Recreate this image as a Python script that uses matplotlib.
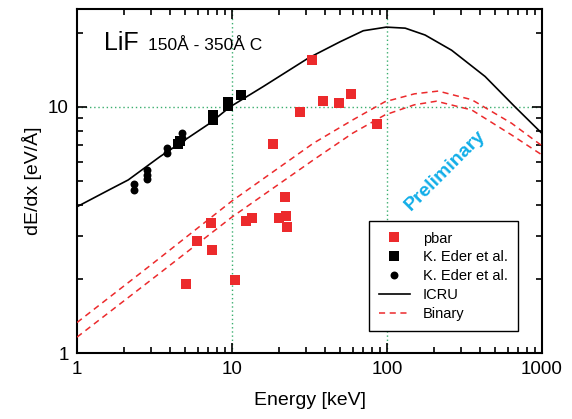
import matplotlib
matplotlib.use("Agg")
import matplotlib.pyplot as plt
from matplotlib.ticker import LogLocator, NullFormatter, FixedLocator, FixedFormatter

plt.rcParams['font.family'] = ['Liberation Sans', 'DejaVu Sans']

# pbar data
pbar_e = [5.03, 5.92, 7.29, 7.43, 10.5, 12.3, 13.5, 18.5, 20.2, 22.0, 22.3, 22.5,
          27.3, 32.8, 38.5, 48.8, 58.9, 86.6]
pbar_s = [1.90, 2.84, 3.37, 2.62, 1.98, 3.45, 3.53, 7.07, 3.53, 4.31, 3.61, 3.26,
          9.57, 15.5, 10.6, 10.35, 11.3, 8.53]

# K. Eder et al. (squares)
eder_sq_e = [4.50, 4.62, 7.51, 7.51, 9.38, 9.38, 11.4]
eder_sq_s = [7.05, 7.25, 9.28, 8.85, 10.5, 10.1, 11.2]

# K. Eder et al. (circles)
eder_ci_e = [2.33, 2.33, 2.84, 2.84, 2.84, 3.83, 3.83, 4.73, 4.73]
eder_ci_s = [4.86, 4.60, 5.55, 5.29, 5.10, 6.79, 6.48, 7.82, 7.48]

# ICRU stopping power
icru_e = [1, 1.63, 2.14, 3.43, 7.21, 9.7, 15.9, 31.1, 49.8, 70.3, 99, 131, 176,
          261, 429, 670, 1000]
icru_s = [3.93, 4.62, 5.05, 6.28, 8.59, 10.0, 12.1, 15.8, 18.4, 20.4, 21.1, 20.9,
          19.6, 17.0, 13.3, 10.0, 7.8]

# Binary model (two curves)
bin_hi_e = [1, 3, 10, 33.5, 60, 97, 150, 214, 352, 637, 1000]
bin_hi_s = [1.33, 2.28, 4.15, 7.12, 8.85, 10.5, 11.3, 11.6, 10.7, 8.58, 6.95]
bin_lo_e = [1, 3, 10, 33.5, 60, 97, 150, 208, 352, 637, 1000]
bin_lo_s = [1.16, 1.98, 3.57, 6.09, 7.82, 9.28, 10.2, 10.55, 9.72, 7.69, 6.38]

red = "#ec2a2c"
grid_c = "#3aae6e"

fig = plt.figure(figsize=(5.72, 4.19), dpi=100)
ax = fig.add_axes([0.1346, 0.1575, 0.8130, 0.8210])
ax.set_xscale("log")
ax.set_yscale("log")
ax.set_xlim(1, 1000)
ax.set_ylim(1, 25)

# dotted reference lines
ax.axvline(10, color=grid_c, ls=(0, (1, 2)), lw=1, zorder=1)
ax.axvline(100, color=grid_c, ls=(0, (1, 2)), lw=1, zorder=1)
ax.axhline(10, color=grid_c, ls=(0, (1, 2)), lw=1, zorder=1)

ax.plot(pbar_e, pbar_s, "s", color=red, ms=6.5, mew=0, label="pbar", zorder=4)
ax.plot(eder_sq_e, eder_sq_s, "s", color="black", ms=6.5, mew=0, label="K. Eder et al.", zorder=4)
ax.plot(eder_ci_e, eder_ci_s, "o", color="black", ms=5.7, mew=0, label="K. Eder et al.", zorder=4)
ax.plot(icru_e, icru_s, "-", color="black", lw=1.2, label="ICRU", zorder=3)
ax.plot(bin_hi_e, bin_hi_s, "--", color=red, lw=1.1, dashes=(4, 3), label="Binary", zorder=3)
ax.plot(bin_lo_e, bin_lo_s, "--", color=red, lw=1.1, dashes=(4, 3), zorder=3)

ax.text(0.058, 0.881, "LiF", transform=ax.transAxes, fontsize=18)
ax.text(0.152, 0.881, "150Å - 350Å C", transform=ax.transAxes, fontsize=12.5)
ax.text(236, 5.5, "Preliminary", color="#12aee8", fontsize=14, fontweight="bold",
        rotation=45, ha="center", va="center", rotation_mode="anchor", zorder=2)

ax.set_xlabel("Energy [keV]", fontsize=14, labelpad=10)
ax.set_ylabel("dE/dx [eV/Å]", fontsize=14, labelpad=4)

ax.xaxis.set_major_locator(FixedLocator([1, 10, 100, 1000]))
ax.xaxis.set_major_formatter(FixedFormatter(["1", "10", "100", "1000"]))
ax.xaxis.set_minor_locator(LogLocator(base=10, subs=range(2, 10)))
ax.xaxis.set_minor_formatter(NullFormatter())
ax.yaxis.set_major_locator(FixedLocator([1, 10]))
ax.yaxis.set_major_formatter(FixedFormatter(["1", "10"]))
ax.yaxis.set_minor_locator(LogLocator(base=10, subs=range(2, 10)))
ax.yaxis.set_minor_formatter(NullFormatter())

ax.tick_params(which="both", direction="in", top=True, right=True, width=1.2)
ax.tick_params(which="major", length=7, labelsize=13.5, pad=6)
ax.tick_params(which="minor", length=4)
for s in ax.spines.values():
    s.set_linewidth(1.5)

leg = ax.legend(loc="lower right", bbox_to_anchor=(0.948, 0.064), borderaxespad=0,
                fontsize=10.5, frameon=True, fancybox=False, framealpha=1,
                edgecolor="black", handlelength=2.1, handletextpad=0.9,
                labelspacing=0.33, borderpad=0.7)
leg.get_frame().set_linewidth(1.0)
leg.set_zorder(5)

fig.savefig("out.png", dpi=100)
